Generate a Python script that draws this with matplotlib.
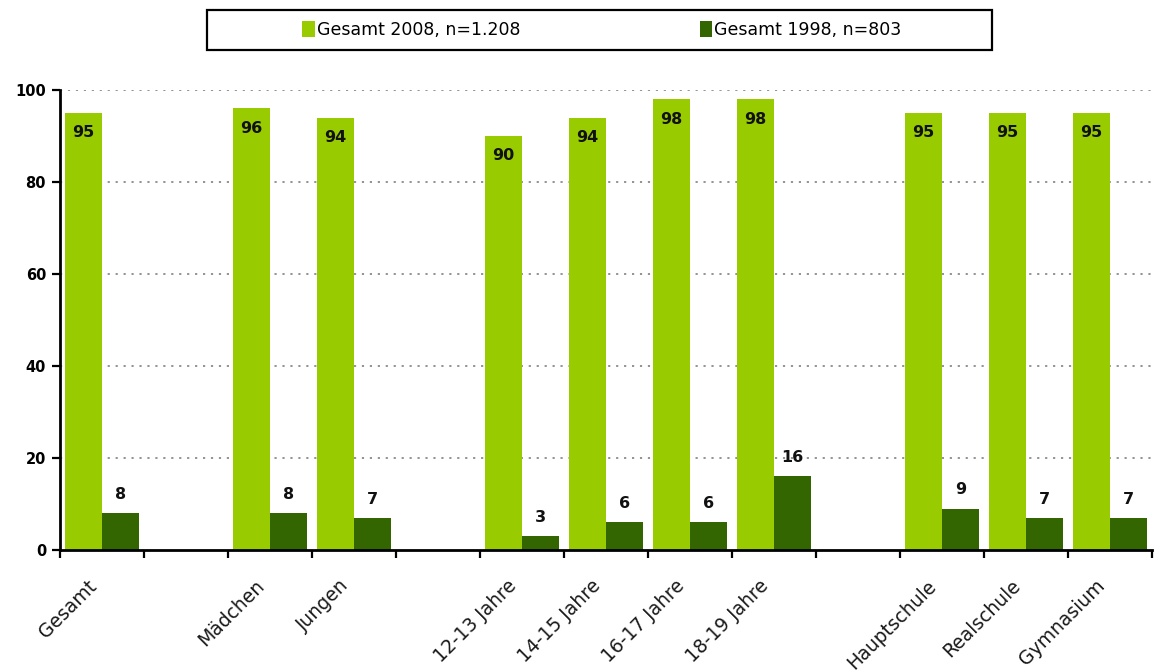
import matplotlib
matplotlib.use("Agg")
import matplotlib.pyplot as plt
from matplotlib.patches import Patch, Rectangle
from matplotlib.ticker import FixedLocator
from matplotlib.transforms import ScaledTranslation

plt.rcParams['font.family'] = ['DejaVu Sans']

# ---- data ----
groups = [
    ["Gesamt"],
    ["Mädchen", "Jungen"],
    ["12-13 Jahre", "14-15 Jahre", "16-17 Jahre", "18-19 Jahre"],
    ["Hauptschule", "Realschule", "Gymnasium"],
]
values_2008 = [95, 96, 94, 90, 94, 98, 98, 95, 95, 95]
values_1998 = [8, 8, 7, 3, 6, 6, 16, 9, 7, 7]
series_names = ["Gesamt 2008, n=1.208", "Gesamt 1998, n=803"]
yticks = [0, 20, 40, 60, 80, 100]

GREEN = "#99CC00"
DARK = "#336600"

# slot positions: one empty slot between groups
labels, xs = [], []
slot = 0
for gi, g in enumerate(groups):
    if gi > 0:
        slot += 1
    for name in g:
        labels.append(name)
        xs.append(slot)
        slot += 1
nslots = slot

fig = plt.figure(figsize=(11.6, 6.72), dpi=100)
ax = fig.add_axes([60/1160, 1-550/672, (1152-60)/1160, (550-90)/672])

w = 0.445
b1 = ax.bar([x - w/2 for x in xs], values_2008, width=w, color=GREEN, zorder=3)
b2 = ax.bar([x + w/2 for x in xs], values_1998, width=w, color=DARK, zorder=3)

for rect, v in zip(b1, values_2008):
    ax.annotate(str(v), (rect.get_x() + rect.get_width()/2, v), xytext=(0, -9),
                textcoords="offset points", ha="center", va="top",
                fontsize=11.5, fontweight="bold", color="#111111", zorder=4)
for rect, v in zip(b2, values_1998):
    ax.annotate(str(v), (rect.get_x() + rect.get_width()/2, v), xytext=(0, 8),
                textcoords="offset points", ha="center", va="bottom",
                fontsize=11.5, fontweight="bold", color="#111111", zorder=4)

ax.set_xlim(-0.5, nslots - 0.5)
ax.set_ylim(0, 100)
ax.set_yticks(yticks)
ax.set_yticklabels([str(t) for t in yticks], fontsize=10.5, fontweight="bold")

ax.set_xticks(xs)
ax.set_xticklabels(labels, rotation=45, ha="right", rotation_mode="anchor",
                   fontsize=13.5, color="#1a1a1a")
ax.tick_params(axis="x", which="major", length=0, pad=19)
shift = ScaledTranslation(-15/100, 0, fig.dpi_scale_trans)
for lbl in ax.get_xticklabels():
    lbl.set_transform(lbl.get_transform() + shift)
ax.xaxis.set_minor_locator(FixedLocator([i - 0.5 for i in range(nslots + 1)]))
ax.tick_params(axis="x", which="minor", length=6, width=1.6, direction="out")
ax.tick_params(axis="y", length=6, width=1.6, direction="out", pad=4)

for s in ["top", "right"]:
    ax.spines[s].set_visible(False)
for s in ["left", "bottom"]:
    ax.spines[s].set_linewidth(2)
    ax.spines[s].set_zorder(5)

for t in yticks[1:]:
    ax.axhline(t, color="#8a8a8a", linestyle=(0, (1.2, 3.2)), linewidth=1.3, zorder=1)

# legend
fig.patches.append(Rectangle((207/1160, 1-50/672), (992-207)/1160, 40/672,
                             transform=fig.transFigure, fill=False,
                             edgecolor="black", linewidth=1.6))
handles = [Patch(facecolor=GREEN, edgecolor="none"), Patch(facecolor=DARK, edgecolor="none")]
fig.legend(handles, series_names, loc="center", bbox_to_anchor=(602/1160, 1-30/672),
           ncol=2, frameon=False, fontsize=12.5, handlelength=0.7, handleheight=1.0,
           handletextpad=0.15, columnspacing=10.3)

fig.savefig("out.png", dpi=100)
